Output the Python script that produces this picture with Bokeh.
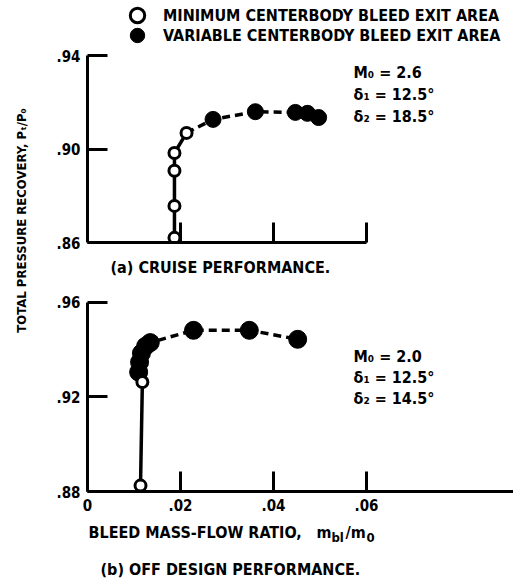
import math
from bokeh.plotting import figure
from bokeh.layouts import row, column
from bokeh.models import FixedTicker, Range1d, Label, Legend, LegendItem
from bokeh.embed import file_html
from bokeh.resources import INLINE

FONT = "DejaVu Sans Condensed"

# ---- data ----
top_open_x = [0.0187, 0.0187, 0.0187, 0.0187, 0.0213]
top_open_y = [0.8620, 0.8757, 0.8908, 0.8984, 0.9070]
top_fill_x = [0.0270, 0.0361, 0.0447, 0.0473, 0.0497]
top_fill_y = [0.9128, 0.9161, 0.9158, 0.9154, 0.9136]

bot_open_x = [0.0114, 0.0118]
bot_open_y = [0.8825, 0.9263]
bot_fill_x = [0.0110, 0.0112, 0.0116, 0.0125, 0.0135, 0.0228, 0.0348, 0.0452]
bot_fill_y = [0.9305, 0.9347, 0.9385, 0.9415, 0.9430, 0.9482, 0.9482, 0.9444]

top_yticks = [0.86, 0.90, 0.94]
top_ytick_labels = [".86", ".90", ".94"]
bot_yticks = [0.88, 0.92, 0.96]
bot_ytick_labels = [".88", ".92", ".96"]
xticks = [0.0, 0.02, 0.04, 0.06]
xtick_labels = ["0", ".02", ".04", ".06"]

legend_labels = ["MINIMUM CENTERBODY BLEED EXIT AREA",
                 "VARIABLE CENTERBODY BLEED EXIT AREA"]
top_params = ["M\u2080 = 2.6", "\u03b4\u2081 = 12.5\u00b0", "\u03b4\u2082 = 18.5\u00b0"]
bot_params = ["M\u2080 = 2.0", "\u03b4\u2081 = 12.5\u00b0", "\u03b4\u2082 = 14.5\u00b0"]

xr = Range1d(0.0, 0.09161)


def style_axis(ax, ticks, labels, bounds, show_labels=True):
    ax.ticker = FixedTicker(ticks=ticks)
    ax.bounds = bounds
    ax.axis_line_width = 3
    ax.axis_line_color = "black"
    ax.major_tick_line_width = 3
    ax.major_tick_line_color = "black"
    ax.major_tick_in = 20
    ax.major_tick_out = 0
    ax.minor_tick_line_color = None
    ax.major_label_text_font = FONT
    ax.major_label_text_font_style = "bold"
    ax.major_label_text_color = "black"
    if show_labels:
        ax.major_label_overrides = {t: l for t, l in zip(ticks, labels)}
        ax.major_label_text_font_size = "15px"
        ax.major_label_standoff = 7
    else:
        ax.major_label_text_font_size = "0px"
        ax.major_label_text_alpha = 0
        ax.major_label_standoff = 0


def lab(p, x, y, text, size="16px", align="left", angle=0.0):
    p.add_layout(Label(x=x, y=y, x_units="screen", y_units="screen", text=text,
                       text_font=FONT, text_font_size=size, text_font_style="bold",
                       text_color="black", text_align=align, text_baseline="middle",
                       angle=angle))


def base_fig(h, yr, bottom):
    p = figure(width=473, height=h, x_range=xr, y_range=yr, output_backend="svg",
               toolbar_location=None, min_border_left=47, min_border_right=0,
               min_border_top=0, min_border_bottom=bottom, title=None)
    p.grid.visible = False
    p.outline_line_color = None
    p.background_fill_color = "white"
    p.border_fill_color = "white"
    return p


def text_fig(w, h):
    p = figure(width=w, height=h, x_range=Range1d(0, 1), y_range=Range1d(0, 1),
               x_axis_type=None, y_axis_type=None, output_backend="svg",
               toolbar_location=None, min_border=0, title=None)
    p.outline_line_color = None
    p.grid.visible = False
    return p


def one_legend(label, rend, y):
    return Legend(items=[LegendItem(label=label, renderers=[rend])],
                  location=(32, y), padding=0, margin=0, spacing=0,
                  glyph_width=36, glyph_height=36, label_standoff=8,
                  border_line_color=None, background_fill_alpha=0,
                  label_text_font=FONT, label_text_font_size="16px",
                  label_text_font_style="bold", label_text_color="black")


# ---- top panel (abs y 0..256) ----
top = base_fig(256, Range1d(0.86, 0.9638), 14)
style_axis(top.yaxis[0], top_yticks, top_ytick_labels, (0.86, 0.94))
style_axis(top.xaxis[0], xticks[1:], xtick_labels[1:], (0.0, 0.06), show_labels=False)

top.line(top_open_x, top_open_y, line_width=3.5, line_color="black")
top.line([top_open_x[-1]] + top_fill_x, [top_open_y[-1]] + top_fill_y,
         line_width=3.5, line_color="black", line_dash="8 5")
r_open = top.scatter(top_open_x, top_open_y, size=11, fill_color="white",
                     line_color="black", line_width=3)
r_fill = top.scatter(top_fill_x, top_fill_y, size=16, fill_color="black",
                     line_color="black")

top.add_layout(one_legend(legend_labels[0], r_open, 209))
top.add_layout(one_legend(legend_labels[1], r_fill, 189))

for i, t in enumerate(top_params):
    lab(top, 266, 170 - 22 * i, t)

# ---- caption (a) strip (abs y 256..283) ----
cap_a = text_fig(473, 27)
lab(cap_a, 23, 16, "(a) CRUISE PERFORMANCE.")

# ---- bottom panel (abs y 283..519) ----
bot = base_fig(236, Range1d(0.88, 0.968), 28)
style_axis(bot.yaxis[0], bot_yticks, bot_ytick_labels, (0.88, 0.96))
style_axis(bot.xaxis[0], xticks, xtick_labels, "auto")

bot.line(bot_open_x, bot_open_y, line_width=3.5, line_color="black")
bot.line([bot_open_x[-1]] + bot_fill_x, [bot_open_y[-1]] + bot_fill_y,
         line_width=3.5, line_color="black", line_dash="8 5")
bot.scatter(bot_fill_x, bot_fill_y, size=18, fill_color="black", line_color="black")
bot.scatter(bot_open_x, bot_open_y, size=11, fill_color="white",
            line_color="black", line_width=3)

for i, t in enumerate(bot_params):
    lab(bot, 266, 135 - 21 * i, t)

# ---- x label and caption (b) strip (abs y 519..581) ----
cap_b = text_fig(473, 62)
lab(cap_b, 1, 49, "BLEED MASS-FLOW RATIO,")
lab(cap_b, 229, 49, "m")
lab(cap_b, 244, 44, "bl", size="13px")
lab(cap_b, 258, 49, "/m")
lab(cap_b, 279, 44, "0", size="13px")
lab(cap_b, 13, 12, "(b) OFF DESIGN PERFORMANCE.")

# ---- y label strip ----
yl = text_fig(40, 581)
lab(yl, 21, 581 - 220, "TOTAL PRESSURE RECOVERY, P\u209c/P\u2080", size="13px",
    align="center", angle=math.pi / 2)

layout = row(yl, column(top, cap_a, bot, cap_b, spacing=0), spacing=0)
open("out.html", "w").write(file_html(layout, INLINE))
